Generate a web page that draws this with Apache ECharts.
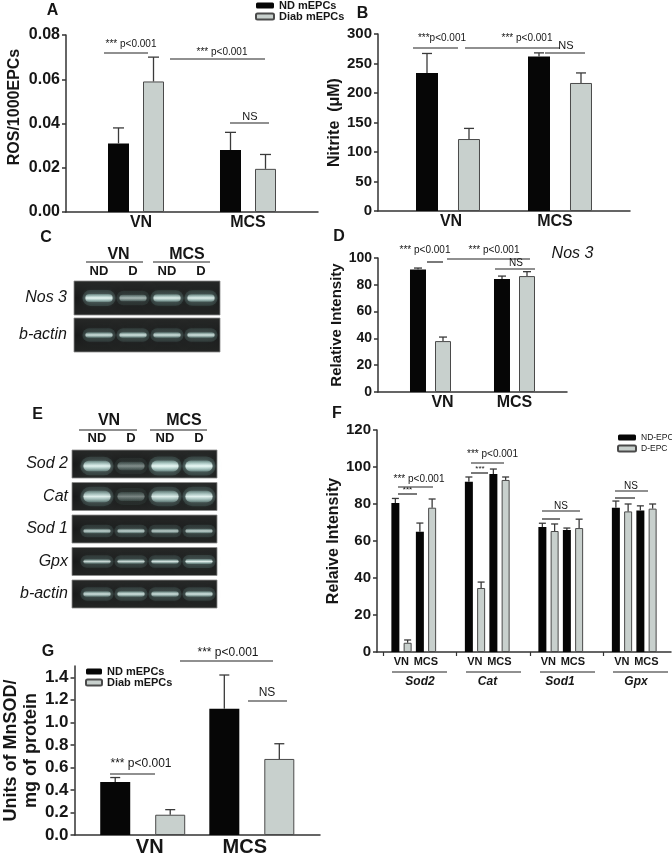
<!DOCTYPE html>
<html>
<head>
<meta charset="utf-8">
<script src="https://cdn.jsdelivr.net/npm/echarts@6/dist/echarts.min.js"></script>
<style>
html,body{margin:0;padding:0;background:#fff;}
#chart{width:672px;height:857px;}
</style>
</head>
<body>
<div id="chart"></div>
<script>
// ===================== DATA =====================
const groups = ['VN', 'MCS'];
const legendMice = ['ND mEPCs', 'Diab mEPCs'];
const legendCells = ['ND-EPC', 'D-EPC'];

// A: ROS / 1000 EPCs
const rosND = [0.031, 0.028];
const rosNDErr = [0.007, 0.008];
const rosDiab = [0.059, 0.0195];
const rosDiabErr = [0.011, 0.0065];

// B: Nitrite (uM)
const nitND = [234, 262];
const nitNDErr = [33, 6];
const nitDiab = [122, 217];
const nitDiabErr = [18, 17];

// C: RT-PCR gel (relative band brightness 0..1)
const gelLanes = ['ND', 'D', 'ND', 'D'];
const gelCRows = ['Nos 3', 'b-actin'];
const gelCBands = [
  [0.95, 0.6, 0.88, 0.88],
  [0.8, 0.82, 0.8, 0.82]
];

// D: Nos3 relative intensity
const nosND = [91.5, 84.3];
const nosNDErr = [1, 2.2];
const nosD = [38, 86.5];
const nosDErr = [3, 3.3];

// E: RT-PCR gel
const gelERows = ['Sod 2', 'Cat', 'Sod 1', 'Gpx', 'b-actin'];
const gelEBands = [
  [0.9, 0.42, 0.97, 0.97],
  [0.85, 0.38, 0.85, 0.88],
  [0.75, 0.75, 0.72, 0.75],
  [0.75, 0.75, 0.8, 0.88],
  [0.8, 0.82, 0.8, 0.82]
];

// F: relative intensity per gene
const genes = ['Sod2', 'Cat', 'Sod1', 'Gpx'];
const fNdVN = [80.5, 92, 67.6, 78];
const fNdVNErr = [2.5, 2.6, 2, 3.6];
const fDVN = [5, 34.6, 65.4, 76];
const fDVNErr = [1.5, 3.2, 3.8, 4];
const fNdMCS = [65, 96.2, 66, 76.5];
const fNdMCSErr = [4.7, 2.7, 1, 2.5];
const fDMCS = [78, 93, 67, 77.5];
const fDMCSErr = [4.7, 1.6, 4.8, 2.5];

// G: Units of MnSOD / mg of protein
const sodND = [0.47, 1.12];
const sodNDErr = [0.04, 0.30];
const sodDiab = [0.18, 0.675];
const sodDiabErr = [0.045, 0.135];

// ===================== STYLE / BUILDERS =====================
const FONT = '"Liberation Sans", Arial, Helvetica, sans-serif';
const INK = '#161616';
const AX = '#333';
const BLACK = '#060606';
const GRAY = '#c8d0cd';
const GRAY_EDGE = '#4a4a4a';

const grid = [], xAxis = [], yAxis = [], series = [], legend = [], graphic = [];

function errRender(dx, cap) {
  return function (params, api) {
    const x = api.value(0), v = api.value(1), e = api.value(2);
    const p0 = api.coord([x, v]);
    const p1 = api.coord([x, v + e]);
    const cx = p0[0] + dx;
    const st = { stroke: '#3a3a3a', lineWidth: 1.3 };
    return { type: 'group', children: [
      { type: 'line', shape: { x1: cx, y1: p0[1], x2: cx, y2: p1[1] }, style: st },
      { type: 'line', shape: { x1: cx - cap / 2, y1: p1[1], x2: cx + cap / 2, y2: p1[1] }, style: st }
    ] };
  };
}

function shiftRich(shifts) {
  const rich = {};
  shifts.forEach((s, k) => {
    rich['s' + k] = { padding: s >= 0 ? [0, 0, 0, 2 * s] : [0, -2 * s, 0, 0] };
  });
  return rich;
}

function valueAxis(gi, o) {
  return {
    type: 'value', gridIndex: gi, min: 0, max: o.yMax, interval: o.interval,
    axisLine: { show: true, lineStyle: { color: AX, width: 1.5 } },
    axisTick: { show: true, length: 4, lineStyle: { color: AX, width: 1.5 } },
    splitLine: { show: false },
    axisLabel: { showMaxLabel: o.showMax !== false, color: INK, fontFamily: FONT, fontWeight: 'bold', fontSize: o.tickSize, margin: o.tickMargin || 6,
      formatter: v => o.decimals != null ? v.toFixed(o.decimals) : String(v) },
    name: o.name, nameLocation: 'middle', nameRotate: 90, nameGap: o.nameGap,
    nameTextStyle: { color: INK, fontFamily: FONT, fontWeight: 'bold', fontSize: o.nameSize, padding: o.namePad || 0, lineHeight: o.nameLH || undefined }
  };
}

function pairedPanel(o) {
  const gi = grid.length;
  grid.push(o.box);
  const cats = [];
  for (let i = 0; i < o.slots; i++) cats.push('pad' + i);
  o.slotIdx.forEach((s, k) => { cats[s] = groups[k]; });
  xAxis.push({
    type: 'category', gridIndex: gi, data: cats,
    axisLine: { lineStyle: { color: AX, width: 1.5 } }, axisTick: { show: false },
    axisLabel: { interval: 0, color: INK, fontFamily: FONT, fontWeight: 'bold', fontSize: o.catSize, margin: o.catMargin || 3,
      formatter: v => { const k = groups.indexOf(v); return k < 0 ? '' : '{s' + k + '|' + v + '}'; },
      rich: shiftRich(o.labelShift || [0, 0]) }
  });
  yAxis.push(valueAxis(gi, o));
  const fill = vals => { const a = cats.map(() => '-'); o.slotIdx.forEach((s, k) => { a[s] = vals[k]; }); return a; };
  const half = (o.barWidth + o.gap) / 2;
  const bg = (o.gap / o.barWidth * 100).toFixed(1) + '%';
  series.push({ type: 'bar', name: o.names[0], xAxisIndex: gi, yAxisIndex: gi, data: fill(o.nd), barWidth: o.barWidth, barGap: bg,
    itemStyle: { color: BLACK } });
  series.push({ type: 'bar', name: o.names[1], xAxisIndex: gi, yAxisIndex: gi, data: fill(o.d), barWidth: o.barWidth, barGap: bg,
    itemStyle: { color: GRAY, borderColor: GRAY_EDGE, borderWidth: 1 } });
  series.push({ type: 'custom', xAxisIndex: gi, yAxisIndex: gi, silent: true, z: 3, encode: { x: 0, y: 1 },
    data: o.slotIdx.map((s, k) => [s, o.nd[k], o.ndErr[k]]), renderItem: errRender(-half, o.cap) });
  series.push({ type: 'custom', xAxisIndex: gi, yAxisIndex: gi, silent: true, z: 3, encode: { x: 0, y: 1 },
    data: o.slotIdx.map((s, k) => [s, o.d[k], o.dErr[k]]), renderItem: errRender(half, o.cap) });
}

function gelPanel(o) {
  const gi = grid.length;
  grid.push(o.box);
  xAxis.push({ type: 'category', gridIndex: gi, position: 'top', data: gelLanes,
    axisLine: { show: false }, axisTick: { show: false },
    axisLabel: { interval: 0, color: INK, fontFamily: FONT, fontWeight: 'bold', fontSize: 13, margin: o.laneMargin } });
  yAxis.push({ type: 'category', gridIndex: gi, inverse: true, data: o.rows,
    axisLine: { show: false }, axisTick: { show: false },
    axisLabel: { interval: 0, color: INK, fontFamily: FONT, fontStyle: 'italic', fontSize: 16, margin: o.rowMargin } });
  series.push({ type: 'custom', xAxisIndex: gi, yAxisIndex: gi, silent: true, z: 2, encode: { x: 0, y: 1 },
    data: o.rows.map((r, i) => [0, i]),
    renderItem: (params, api) => {
      const cs = params.coordSys;
      const cy = api.coord([0, api.value(1)])[1];
      return { type: 'rect', shape: { x: cs.x - o.padL, y: cy - o.bgH / 2, width: cs.width + o.padL + o.padR, height: o.bgH },
        style: { fill: new echarts.graphic.LinearGradient(0, 0, 0, 1, [
          { offset: 0, color: '#262827' }, { offset: 0.5, color: '#181919' }, { offset: 1, color: '#222423' }]),
          stroke: '#8a8a8a', lineWidth: 0.8 } };
    } });
  const bandData = [];
  o.bands.forEach((row, r) => row.forEach((v, l) => bandData.push([l, r, v])));
  series.push({ type: 'custom', xAxisIndex: gi, yAxisIndex: gi, silent: true, z: 3, encode: { x: 0, y: 1 },
    data: bandData,
    renderItem: (params, api) => {
      const l = api.value(0), r = api.value(1), v = api.value(2);
      const c = api.coord([l, r]);
      const w = api.size([1, 1])[0] * 0.8;
      const th = o.thickness[r] * (0.6 + 0.4 * v);
      const dy = (o.bandDy && o.bandDy[r]) || 0;
      const y0 = c[1] + dy;
      const a = v.toFixed(3);
      const core = new echarts.graphic.LinearGradient(0, 0, 0, 1, [
        { offset: 0, color: 'rgba(170,215,208,' + (0.35 * v).toFixed(3) + ')' },
        { offset: 0.5, color: 'rgba(236,250,247,' + a + ')' },
        { offset: 1, color: 'rgba(170,215,208,' + (0.35 * v).toFixed(3) + ')' }]);
      return { type: 'group', children: [
        { type: 'rect', shape: { x: c[0] - w / 2 - 3, y: y0 - th / 2 - 4, width: w + 6, height: th + 8, r: (th + 8) / 2 },
          style: { fill: 'rgba(120,165,160,' + (0.22 * v).toFixed(3) + ')', shadowBlur: 8, shadowColor: 'rgba(130,180,175,' + (0.45 * v).toFixed(3) + ')' } },
        { type: 'rect', shape: { x: c[0] - w / 2, y: y0 - th / 2, width: w, height: th, r: th / 2 },
          style: { fill: core, shadowBlur: 5, shadowColor: 'rgba(200,236,232,' + (0.8 * v).toFixed(3) + ')' } }
      ] };
    } });
}

// ---------- Panel A ----------
pairedPanel({ box: { left: 66, top: 35, width: 252, height: 177 }, slots: 9, slotIdx: [2, 6], names: legendMice,
  nd: rosND, ndErr: rosNDErr, d: rosDiab, dErr: rosDiabErr, barWidth: 21, gap: 14, cap: 11,
  yMax: 0.08, interval: 0.02, decimals: 2, tickSize: 16, catSize: 16, labelShift: [5, 0],
  name: 'ROS/1000EPCs', nameGap: 43, nameSize: 16, namePad: [0, 0, 0, 33] });

// ---------- Panel B ----------
pairedPanel({ box: { left: 378, top: 34, width: 252, height: 177 }, slots: 9, slotIdx: [2, 6], names: legendMice,
  nd: nitND, ndErr: nitNDErr, d: nitDiab, dErr: nitDiabErr, barWidth: 22, gap: 20, cap: 10,
  yMax: 300, interval: 50, tickSize: 15, catSize: 16, labelShift: [3, -5],
  name: 'Nitrite  (μM)', nameGap: 33, nameSize: 16 });

// ---------- Panel C (gel) ----------
gelPanel({ box: { left: 82, top: 279.5, width: 136, height: 74 }, rows: gelCRows, bands: gelCBands,
  thickness: [8, 6], bgH: 34, padL: 8, padR: 2, laneMargin: 2, rowMargin: 15 });

// ---------- Panel D ----------
pairedPanel({ box: { left: 378, top: 258, width: 189, height: 134 }, slots: 9, slotIdx: [2, 6], names: legendMice,
  nd: nosND, ndErr: nosNDErr, d: nosD, dErr: nosDErr, barWidth: 16, gap: 9, cap: 8,
  yMax: 100, interval: 20, tickSize: 14, catSize: 16, labelShift: [12, 0],
  name: 'Relative Intensity', nameGap: 31, nameSize: 15 });

// ---------- Panel E (gel) ----------
gelPanel({ box: { left: 80, top: 447.75, width: 136, height: 162.5 }, rows: gelERows, bands: gelEBands,
  thickness: [11, 12, 5, 5, 6], bandDy: [2, 0, 2, 0, 0], bgH: 28, padL: 8, padR: 1, laneMargin: 3, rowMargin: 12 });

// ---------- Panel F ----------
(function () {
  const gi = grid.length;
  grid.push({ left: 377, top: 430, width: 294, height: 222 });
  const slotKinds = ['p0', 'VN-ND', 'VN-D', 'MCS-ND', 'MCS-D', 'p1'];
  const cats = [];
  genes.forEach(g => slotKinds.forEach(k => cats.push(g + '|' + k)));
  xAxis.push({ type: 'category', gridIndex: gi, data: cats,
    axisLine: { lineStyle: { color: AX, width: 1.5 } },
    axisTick: { show: true, alignWithLabel: true, length: 4, interval: (i) => i % 6 === 0, lineStyle: { color: AX, width: 1.2 } },
    axisLabel: { interval: 0, color: INK, fontFamily: FONT, fontWeight: 'bold', fontSize: 11, margin: 4,
      formatter: v => v.endsWith('|VN-ND') ? '{s|VN}' : (v.endsWith('|MCS-ND') ? '{s|MCS}' : ''),
      rich: { s: { padding: [0, 0, 0, 12] } } } });
  yAxis.push(valueAxis(gi, { yMax: 120, interval: 20, tickSize: 15, name: 'Relaive Intensity', nameGap: 32, nameSize: 16 }));
  const nd = cats.map(() => '-'), dd = cats.map(() => '-');
  const errNd = [], errD = [];
  genes.forEach((g, k) => {
    const b = k * 6;
    nd[b + 1] = fNdVN[k]; nd[b + 3] = fNdMCS[k];
    dd[b + 2] = fDVN[k]; dd[b + 4] = fDMCS[k];
    errNd.push([b + 1, fNdVN[k], fNdVNErr[k]], [b + 3, fNdMCS[k], fNdMCSErr[k]]);
    errD.push([b + 2, fDVN[k], fDVNErr[k]], [b + 4, fDMCS[k], fDMCSErr[k]]);
  });
  series.push({ type: 'bar', name: legendCells[0], xAxisIndex: gi, yAxisIndex: gi, data: nd, barWidth: 8, barGap: '-100%',
    itemStyle: { color: BLACK } });
  series.push({ type: 'bar', name: legendCells[1], xAxisIndex: gi, yAxisIndex: gi, data: dd, barWidth: 8, barGap: '-100%',
    itemStyle: { color: GRAY, borderColor: GRAY_EDGE, borderWidth: 1 } });
  series.push({ type: 'custom', xAxisIndex: gi, yAxisIndex: gi, silent: true, z: 3, encode: { x: 0, y: 1 }, data: errNd, renderItem: errRender(0, 7) });
  series.push({ type: 'custom', xAxisIndex: gi, yAxisIndex: gi, silent: true, z: 3, encode: { x: 0, y: 1 }, data: errD, renderItem: errRender(0, 7) });
})();

// ---------- Panel G ----------
pairedPanel({ box: { left: 66, top: 666, width: 254, height: 176 }, slots: 9, slotIdx: [2, 6], names: legendMice,
  nd: sodND, ndErr: sodNDErr, d: sodDiab, dErr: sodDiabErr, barWidth: 30, gap: 25, cap: 10,
  yMax: 1.5, interval: 0.2, decimals: 1, showMax: false, tickSize: 17, catSize: 20, catMargin: 2, labelShift: [7, -7],
  name: 'Units of MnSOD/\nmg of protein', nameGap: 23, nameSize: 18, nameLH: 20 });

// ---------- Legends ----------
const legText = (size, weight, lh) => ({ color: INK, fontFamily: FONT, fontSize: size, fontWeight: weight, lineHeight: lh });
legend.push({ data: legendMice, left: 255, top: 0, padding: 0, orient: 'vertical', itemWidth: 18, itemHeight: 6, itemGap: 0,
  textStyle: legText(11, 'bold', 10), selectedMode: false });
legend.push({ data: legendMice, left: 85, top: 666, padding: 0, orient: 'vertical', itemWidth: 16, itemHeight: 6, itemGap: 0,
  textStyle: legText(11, 'bold', 10), selectedMode: false });
legend.push({ data: legendCells, left: 617, top: 432, padding: 0, orient: 'vertical', itemWidth: 18, itemHeight: 6, itemGap: 0,
  textStyle: legText(8.5, 'normal', 11), selectedMode: false });

// ---------- Annotations ----------
function gText(x, y, text, size, extra) {
  graphic.push({ type: 'text', x: x, y: y, silent: true, style: Object.assign({ text: text, fontFamily: FONT, fontSize: size,
    fill: INK, align: 'center', verticalAlign: 'middle' }, extra || {}) });
}
function gLine(x1, x2, y) {
  graphic.push({ type: 'line', silent: true, shape: { x1: x1, y1: y, x2: x2, y2: y }, style: { stroke: '#222', lineWidth: 1.2 } });
}
const B = { fontWeight: 'bold' };
// panel letters
[['A', 52.5, 11], ['B', 362.5, 14], ['C', 46, 238], ['D', 339, 237], ['E', 37.5, 415], ['F', 337, 414], ['G', 48, 652]]
  .forEach(p => gText(p[1], p[2], p[0], 16, B));
// A
gText(131, 44, '*** p<0.001', 10); gLine(104, 148, 53);
gText(222, 52, '*** p<0.001', 10); gLine(170, 265, 59);
gText(250, 117, 'NS', 11); gLine(230, 269, 123);
// B
gText(442, 38, '***p<0.001', 10); gLine(413, 458, 48);
gText(527, 38, '*** p<0.001', 10); gLine(465, 560, 48);
gText(566, 46, 'NS', 11); gLine(545, 585, 53);
// C headers
gText(118.5, 254.5, 'VN', 16, B); gLine(86, 143, 262);
gText(187, 254.5, 'MCS', 16, B); gLine(153, 210, 262);
// D
gText(425, 250.5, '*** p<0.001', 10); gLine(427, 443, 262);
gText(494, 250.5, '*** p<0.001', 10); gLine(447, 530, 259);
gText(516, 263, 'NS', 10); gLine(495, 535, 269);
gText(572.5, 254, 'Nos 3', 16, { fontStyle: 'italic' });
// E headers
gText(109, 421, 'VN', 16, B); gLine(79, 137, 430);
gText(184, 421, 'MCS', 16, B); gLine(150, 207, 430);
// F
gText(419, 479, '*** p<0.001', 10); gLine(398, 433, 487);
gText(407.5, 490, '***', 8); gLine(398, 417, 494);
gText(492.5, 454, '*** p<0.001', 10); gLine(471, 504, 463);
gText(480, 469, '***', 8); gLine(471, 488, 473);
gText(561, 506, 'NS', 10); gLine(542, 580, 511); gLine(542, 560, 519);
gText(631, 486, 'NS', 10); gLine(615, 648, 491); gLine(615, 635, 498);
[[392, 447, 420], [466, 521, 487.5], [540, 595, 560], [613, 668, 636]].forEach((p, k) => {
  gLine(p[0], p[1], 672);
  gText(p[2], 682, genes[k], 12, { fontWeight: 'bold', fontStyle: 'italic' });
});
// G
gText(228, 653, '*** p<0.001', 12); gLine(180, 273, 661);
gText(267, 693, 'NS', 12); gLine(248, 287, 701);
gText(141, 764, '*** p<0.001', 12); gLine(110, 155, 774);

// ===================== RENDER =====================
const chart = echarts.init(document.getElementById('chart'), null, { renderer: 'canvas' });
chart.setOption({
  backgroundColor: '#fff',
  animation: false,
  grid: grid, xAxis: xAxis, yAxis: yAxis, series: series, legend: legend, graphic: graphic
});
</script>
</body>
</html>
